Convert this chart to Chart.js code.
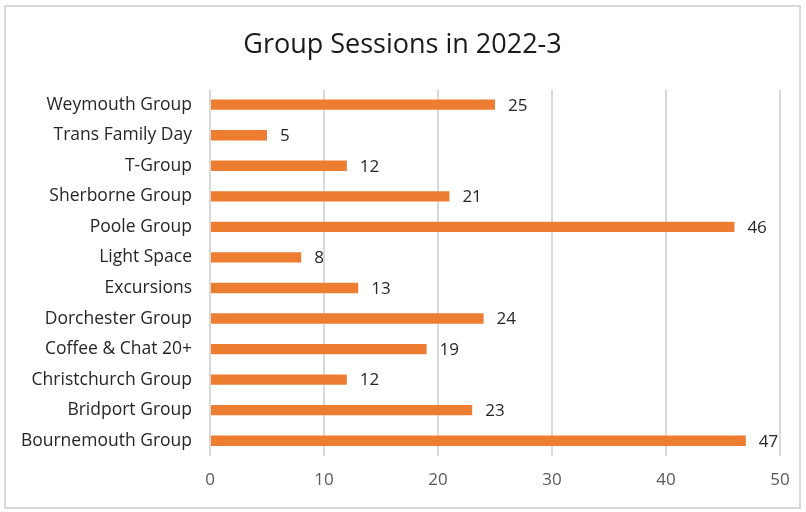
<!DOCTYPE html>
<html lang="en">
<head>
    <meta charset="UTF-8">
    <script src="https://cdn.jsdelivr.net/npm/chart.js"></script>
    <title>Group Sessions</title>
    <style>
        body { margin: 0; background: #fff; }
        #wrap { width: 806px; height: 512px; }
    </style>
</head>
<body>
    <div id="wrap"><canvas id="myChart" width="806" height="512"></canvas></div>
    <script>
        // 그룹별 세션 수
        const groups = [
            'Weymouth Group', 'Trans Family Day', 'T-Group', 'Sherborne Group',
            'Poole Group', 'Light Space', 'Excursions', 'Dorchester Group',
            'Coffee & Chat 20+', 'Christchurch Group', 'Bridport Group', 'Bournemouth Group'
        ];
        const sessions = [25, 5, 12, 21, 46, 8, 13, 24, 19, 12, 23, 47];
        const xTicks = [0, 10, 20, 30, 40, 50];

        const fontFamily = '"Open Sans", sans-serif';

        // 바깥 테두리 + 제목은 테두리 전체 폭 기준으로 가운데
        const frame = {
            id: 'frame',
            afterLayout(chart) {
                const t = chart.titleBlock;
                if (t) { t.left = 5; t.right = 800; t.width = 795; }
            },
            beforeDraw(chart) {
                const c = chart.ctx;
                c.save();
                c.fillStyle = '#fff';
                c.fillRect(0, 0, chart.width, chart.height);
                c.strokeStyle = '#d9d9d9';
                c.lineWidth = 2;
                c.strokeRect(5, 6, 795, 502);
                c.restore();
            }
        };

        // 막대 끝 값 표시
        const valueLabels = {
            id: 'valueLabels',
            afterDatasetsDraw(chart) {
                const c = chart.ctx;
                const meta = chart.getDatasetMeta(0);
                c.save();
                c.fillStyle = '#262626';
                c.font = '17px ' + fontFamily;
                c.textAlign = 'left';
                c.textBaseline = 'middle';
                meta.data.forEach(function(bar, i) {
                    c.fillText(sessions[i], bar.x + 13, bar.y + 1);
                });
                c.restore();
            }
        };

        new Chart(document.getElementById('myChart'), {
            type: 'bar',
            data: {
                labels: groups,
                datasets: [{
                    data: sessions,
                    backgroundColor: '#ed7d31',
                    borderWidth: 0,
                    barPercentage: 0.34,
                    categoryPercentage: 1
                }]
            },
            options: {
                indexAxis: 'y',
                responsive: false,
                animation: false,
                layout: { padding: { left: 10, right: 26, top: 29, bottom: 16 } },
                plugins: {
                    legend: { display: false },
                    tooltip: { enabled: false },
                    title: {
                        display: true,
                        text: 'Group Sessions in 2022-3',
                        color: '#1a1a1a',
                        font: { family: fontFamily, size: 27, weight: 'normal' },
                        padding: { top: 0, bottom: 28 }
                    }
                },
                scales: {
                    x: {
                        min: 0, max: 50,
                        afterBuildTicks: function(scale) {
                            scale.ticks = xTicks.map(v => ({ value: v }));
                        },
                        afterFit: function(scale) { scale.height = 40; },
                        grid: { color: '#d9d9d9', lineWidth: 2, drawTicks: false },
                        border: { display: false },
                        ticks: {
                            color: '#595959',
                            padding: 14,
                            font: { family: fontFamily, size: 17 }
                        }
                    },
                    y: {
                        afterFit: function(scale) { scale.width = 200; },
                        grid: { display: false, drawTicks: false },
                        border: { display: false },
                        ticks: {
                            color: '#262626',
                            padding: 18,
                            font: { family: fontFamily, size: 17.5 }
                        }
                    }
                }
            },
            plugins: [frame, valueLabels]
        });
    </script>
</body>
</html>
